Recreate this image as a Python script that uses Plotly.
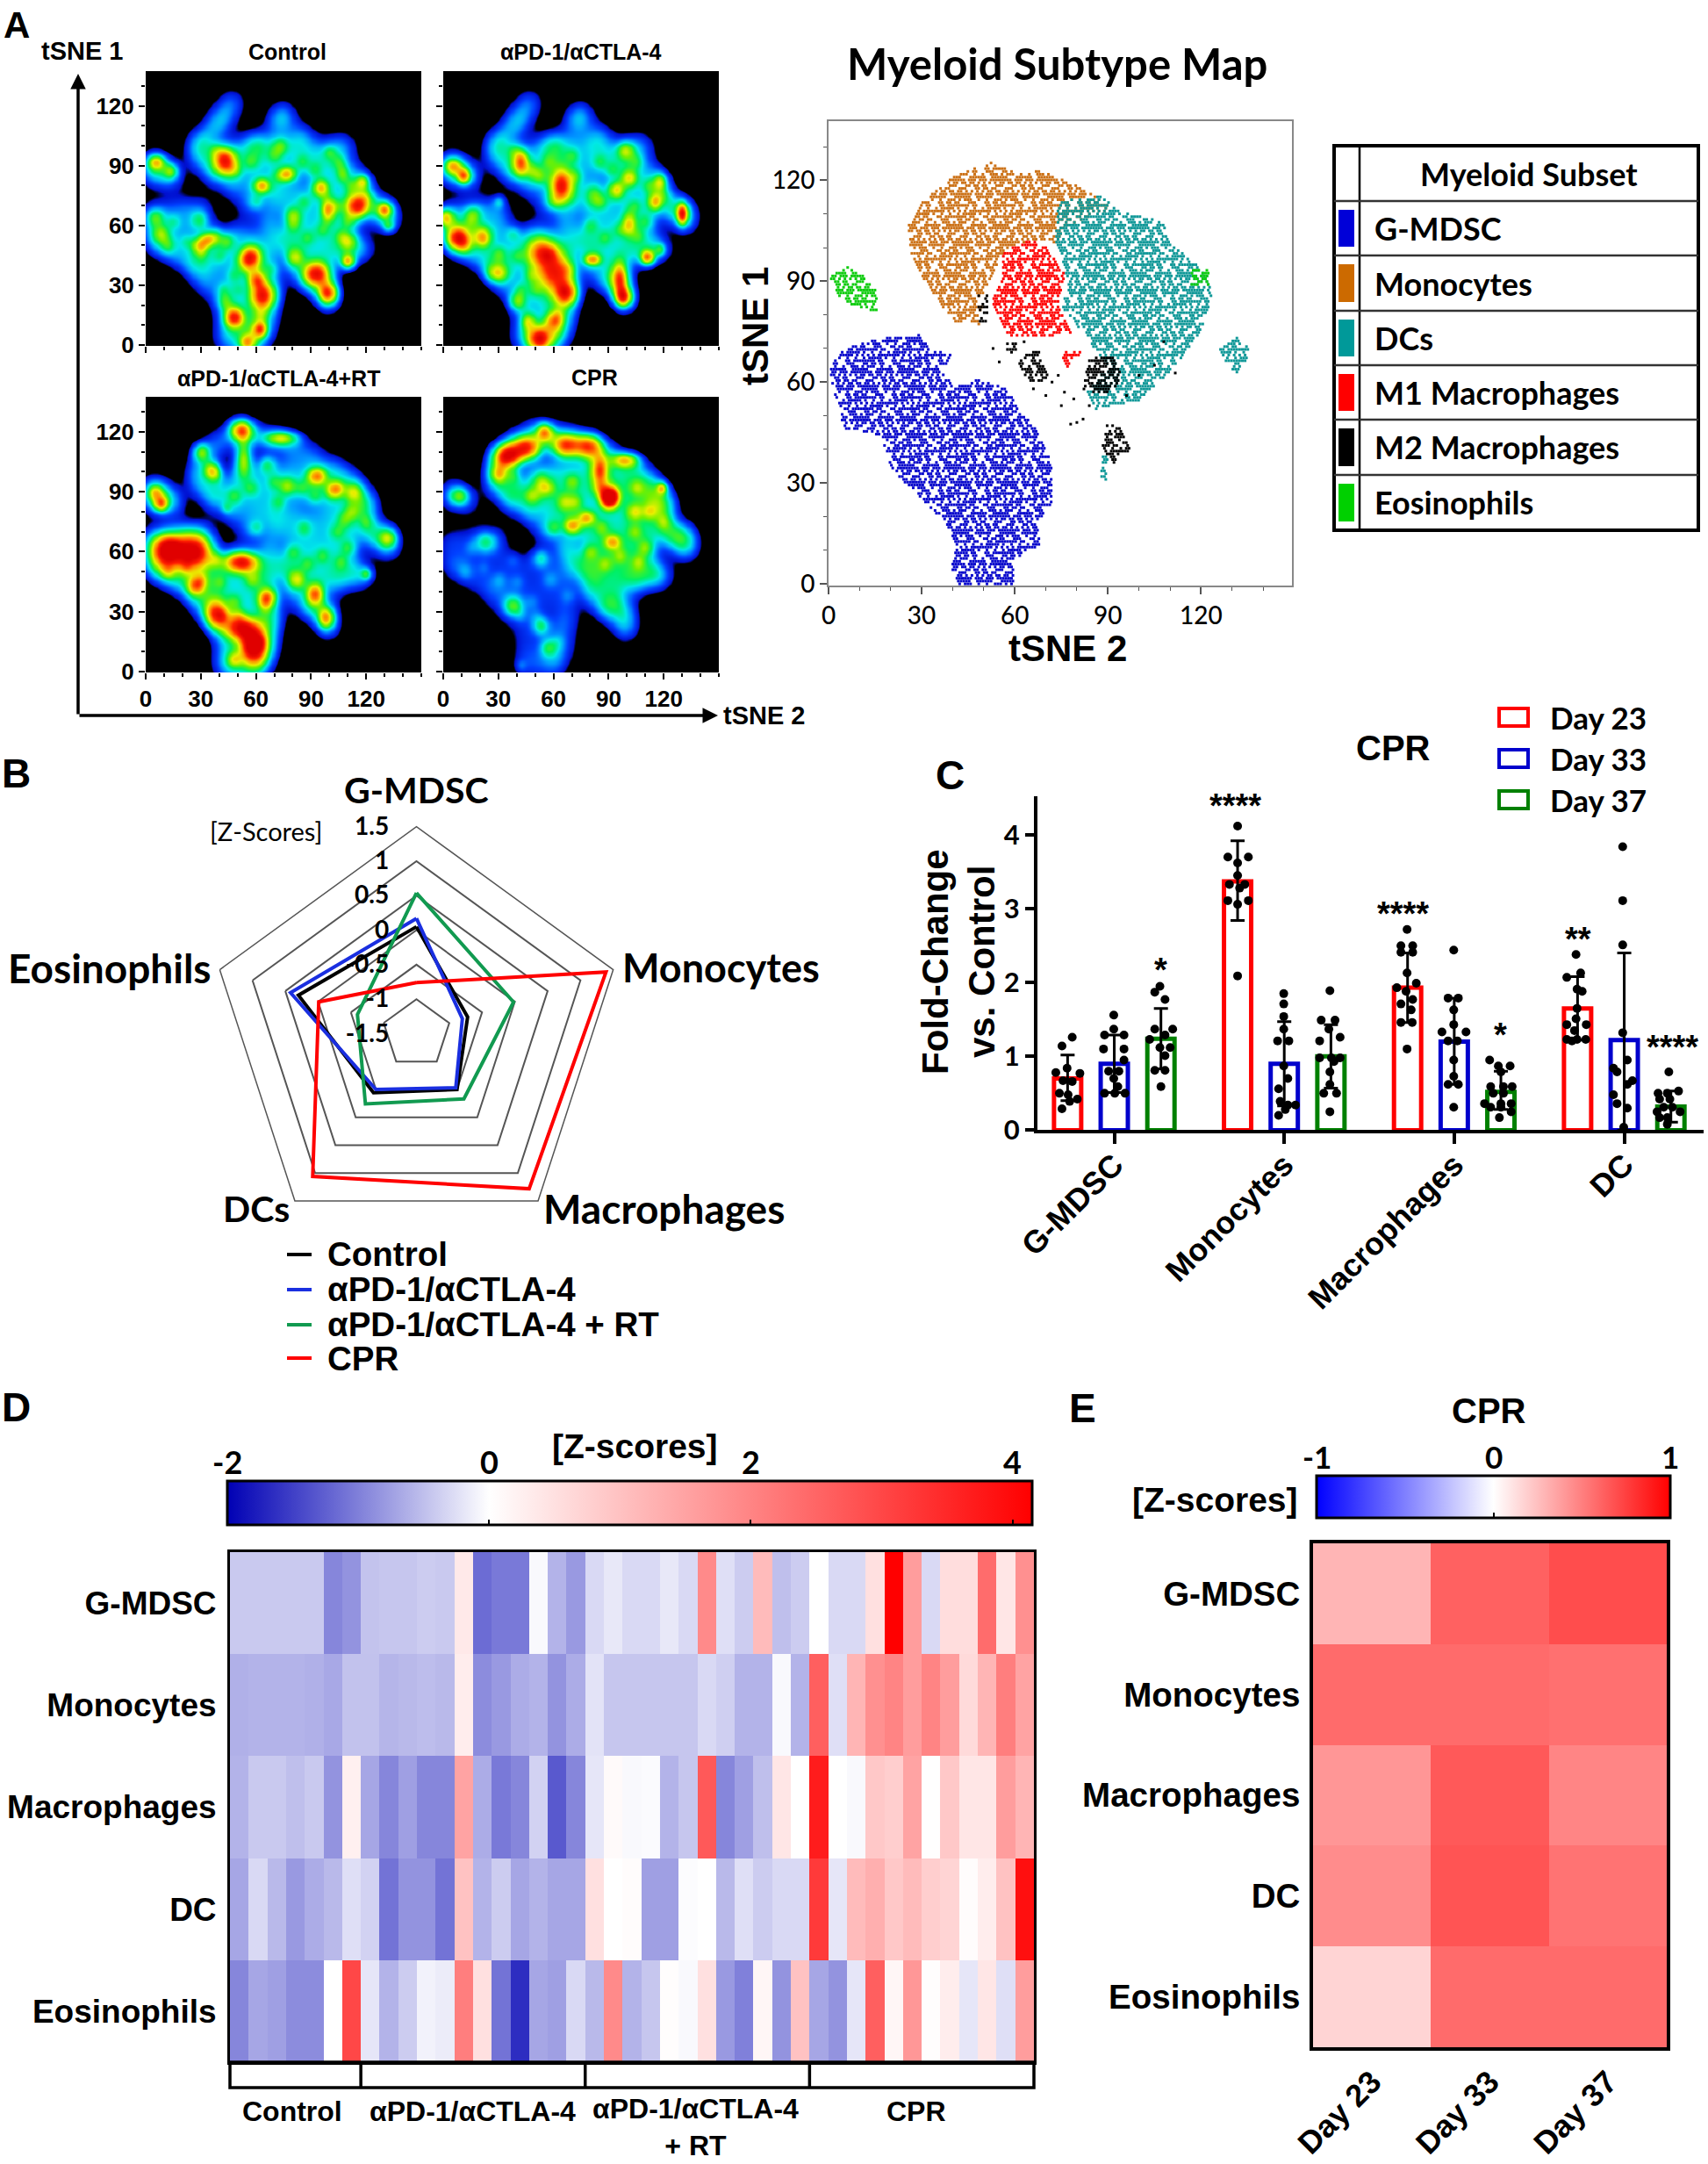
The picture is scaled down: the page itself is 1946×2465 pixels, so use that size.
import numpy as np
import plotly.graph_objects as go

W, H = 1946, 2465
ARIAL = "Liberation Sans"
CAL = "Lato"

# ---------- Panel A: density maps. Hot spots: (x, y, sx, sy, level)
TICKS_TSNE = [0, 30, 60, 90, 120]
PANEL_TITLES = ["Control", "αPD-1/αCTLA-4", "αPD-1/αCTLA-4+RT", "CPR"]
BASE_LOWER = [(2,65),(10,66),(20,68),(30,68),(3,55),(12,55),(22,58),(32,58),(8,50),(16,46),(24,44),(32,48),(42,52),(50,56),(58,52),(66,48),
              (27,38),(35,40),(45,42),(55,44),(65,40),(33,30),(45,32),(55,34),(67,32),(68,25),(42,22),(52,22),(62,22),(66,15),
              (44,12),(55,12),(63,10),(43,3),(50,3),(58,3),(62,4),(4,92),(10,88),(14,84),(3,86)]
BASE_UPPER = [(30,93),(37,86),(47,80),(56,71),(66,62),(72,55),(40,92),(50,98),(60,100),(70,100),(80,100),(90,97),(100,92),(110,88),(118,82),(50,88),(60,90),(70,90),(80,90),
              (90,88),(100,82),(110,78),(120,72),(60,80),(70,80),(80,78),(90,75),(100,72),(110,68),(70,72),(80,68),(90,65),
              (100,62),(110,60),(82,58),(92,55),(102,52),(112,50),(118,48),(78,50),(85,47),(95,45),(105,45),(80,40),(88,32),(92,36),(98,30),(99,22),
              (125,68),(131,68),(132,62)]
TOP_NOTCHED = [(28,100),(32,103),(38,110),(42,115),(47,122),(60,100),(72,112),(75,116),(85,105),(100,98),(108,100)]
TOP_DOME = [(28,100),(32,108),(40,115),(50,120),(60,118),(70,116),(80,112),(90,108),(100,102),(108,98),(115,92),(120,84)]
TEXTURE_UP = [(38,98),(57,92),(48,88),(70,95),(85,92),(92,88),(72,85),(60,72),(86,72),(80,60),(105,92),(112,80),(104,70),(96,58),(106,55),(88,54),(110,62),(120,75)]
TEXTURE_LOW = [(15,62),(22,52),(38,56),(12,50),(30,46),(48,35),(42,28),(58,46),(68,38),(50,28),(62,15),(40,45)]
BASE_LEVELS = [(0.16, 0.15), (0.16, 0.16), (0.165, 0.18), (0.2, 0.09)]  # upper, lower cloud

DENS_CONTROL = [(43,93,4,4.5,.75),(5.5,92,3,2.5,.45),(13.7,87.5,2.5,2.5,.3),(73,100,3,3,.25),(100,97,2,2,.12),(77,86,3,2.5,.5),
    (63,80,3,2.5,.5),(95,79,3,3,.5),(99,68,2.5,4,.5),(115,70,4,4,.75),(130,68,2.5,2.5,.5),(132,60,2,2,.25),(107,86,2.5,3,.25),
    (118,82,2.5,2.5,.4),(80,65,3,3,.3),(110,52,3,3,.3),(110,42,2.5,2.5,.6),(81,44,3,3,.3),(93,36,5,4,.7),(99,26,3.5,3.5,.7),
    (56,43,4,4,.7),(63,25,4.5,4.5,.7),(60,33,3,3,.5),(48,14,3.5,3.5,.75),(62,8,2.5,2.5,.5),(55,1,3,3,.5),(34,53,3.5,2.5,.45),
    (29,50,3,2.5,.35),(5,64,3,3,.25),(8,56,3,3,.25),(29,63,3,3,.2),(44,52,3,3,.25),(43,22,3,3,.25)]
DENS_APD = [(42,92,3,4.5,.6),(5,90,3,2.5,.4),(11,85,2.5,2.5,.55),(64,80,4,6,.75),(99,98,3,3,.3),(118,82,2.5,3,.4),(115,72,2.5,3,.45),
    (101,84,3,3,.4),(94,78,3,3,.45),(101,61,2.5,4,.4),(130,66,2,3.5,.7),(52,85,3,3,.25),(82,75,3,4,.25),(111,44,2.5,2.5,.65),
    (81,43,3,2,.5),(96,33,3,6,.65),(98,24,3,3,.65),(118,48,2,2,.25),(52,47,5,5,.55),(60,36,6,7,.7),(67,26,4,4,.55),(8,54,4,4,.7),
    (21,55,3.5,3.5,.45),(1,64,3,3,.5),(29,36,4,3,.4),(40,22,3,3,.35),(46,12,2.5,3,.35),(52,3,4,4,.75),(60,12,3,3,.35),(30,72,2,2,.2),(16,66,3,3,.25)]
DENS_RT = [(5,90,2.5,2.5,.3),(8,84,2.5,2.5,.5),(52,121,4,3.5,.7),(53,107,3,6,.55),(36,101,3,3,.5),(30,110,3,3,.4),(74,117,6,2.5,.5),
    (93,98,3.5,3,.55),(102,91,3,3,.4),(66,104,3,3,.25),(77,93,3,3,.3),(113,90,3,3,.25),(44,82,2,2,.15),(108,76,3,3,.2),(132,67,3,3,.3),
    (120,49,2,2,.3),(82,46,3,3,.3),(92,39,3,3.5,.55),(98,27,3,3.5,.55),(11,61,5,5,.8),(25,60,7,6,.9),(52,55,6,3.5,.75),(38,29,4,5,.7),
    (52,22,6,4,.75),(58,13,4.5,5,.75),(65,36,3,3.5,.5),(48,6,2.5,2.5,.25),(27,43,3,3,.4)]
DENS_CPR = [(35,108,5,4,.85),(46,112,5,4,.8),(55,120,3,3,.55),(66,113,5,4,.7),(79,113,5,4,.65),(85,101,3,5,.6),(99,106,5,2.5,.55),
    (90,87,3.2,3.5,1.0),(119,92,2,2,.45),(30,99,3,3,.35),(53,94,3,4,.25),(70,73,3,2.5,.4),(78,77,3,2.5,.4),(92,65,3,2.5,.4),(66,85,3,3,.25),
    (104,80,3,3,.3),(8.5,88,3.5,3,.35),(23,65,4,3.5,.3),(38,33,3.5,3.5,.4),(53,23,3,3,.3),(57,12,3,3,.25),(53,57,3,3,.25),(42,3,2,2,.1)]
DENS_ALL = [DENS_CONTROL, DENS_APD, DENS_RT, DENS_CPR]
DENS_TOP = [TOP_NOTCHED, TOP_NOTCHED, TOP_DOME, TOP_DOME]
DENS_COLORS = [[0,'#000000'],[.09,'#000000'],[.115,'#0010d0'],[.19,'#0040ff'],[.27,'#00a0ff'],[.34,'#00e8e8'],[.43,'#00f060'],
               [.53,'#70f000'],[.63,'#e8f000'],[.75,'#ff9000'],[.87,'#ff2000'],[1,'#e00000']]

# ---------- Panel A right: cluster outlines in tSNE units.
# The individual cells cannot be read; each cluster is drawn as a regular lattice clipped to its outline.
SUBSETS = ["G-MDSC", "Monocytes", "DCs", "M1 Macrophages", "M2 Macrophages", "Eosinophils"]
SUBSET_COLORS = ["#0808cc", "#cc7218", "#109898", "#ff0000", "#000000", "#10cc10"]
SWATCH_COLORS = ["#0000d8", "#cc6a00", "#009999", "#ff0000", "#000000", "#00d000"]
OUT_GMDSC = [[(1,65.9),(5.9,70.3),(15.8,72.8),(29.6,74.1),(32.6,69.7),(39.5,68.4),(36.6,63.3),(40.5,58.3),(48.4,60.8),(58.3,57.6),
    (62.3,50.7),(66.2,46.9),(70.2,40.6),(72.1,33),(72.1,24.1),(67.2,17.8),(68.2,11.5),(60.3,7.7),(59.3,0),(41.5,0),(39.5,3.9),(41.5,11.5),
    (36.6,19.1),(28.7,26.7),(21.7,31.7),(17.8,40.6),(15.8,44.4),(4.9,46.3),(3,53.2),(.6,62.1)]]
OUT_MONO = [[(25.7,106.3),(30.6,113.9),(40.5,121.5),(52.4,125.3),(60.3,122.1),(68.2,122.8),(82,117.7),(91.9,111.4),(86,110.1),(76.1,106.3),
    (74.1,101.3),(66.2,102.5),(58.3,100),(54.3,94.9),(50.4,87.4),(48.4,77.2),(40.5,77.9),(32.6,87.4),(26.7,97.5)]]
OUT_DC = [[(74.1,113.9),(87.9,115.2),(93.9,110.7),(107.7,107.6),(109.7,101.3),(115.6,97.5),(122.5,91.2),(123.5,84.8),(119.6,74.7),(111.7,64.6),
    (99.8,54.5),(86,52),(83,57),(89.9,64.6),(84,72.2),(75.1,82.3),(77.1,89.9),(73.1,102.5)],
    [(125.9,69.7),(131.4,73.5),(136.4,69),(131.4,62.7),(127.5,65.9)],[(88,38),(90,38),(90,31),(88,31)]]
OUT_M1 = [[(56.3,98.7),(65.2,102.5),(70.2,100),(76.1,92.4),(74.1,82.3),(78.1,74.7),(70.2,73.5),(58.3,73.5),(55.3,78.5),(52.4,84.8),(56.3,91.2)],
    [(75.1,69.7),(82,69.7),(78.1,64.6),(75.1,64.6)]]
OUT_M2 = [[(61,66),(65,69),(70,65),(71,60),(64,60)],[(84,68),(92,68),(95,60),(88,56),(82,58)],[(90,48),(95,46),(97,40),(92,35),(88,40)],
    [(48.4,86),(51.4,86),(51.4,78),(48.4,78)],[(57.3,72),(60.3,72),(60.3,68.4),(57.3,68.4)],[(65.2,69.7),(68.2,69.7),(68.2,64.6),(65.2,64.6)]]
OUT_EOS = [[(.6,91.2),(4.9,94.9),(11.9,91.2),(15.2,87.4),(15.8,81),(8.9,82.3),(3,85.5)],[(117,93.7),(122.5,93.7),(122.5,88.6),(117,88.6)]]
OUTLINES = [OUT_GMDSC, OUT_MONO, OUT_DC, OUT_M1, OUT_M2, OUT_EOS]
M2_STRAYS_X = [76, 75, 78, 80, 82, 111.7, 100, 105, 72, 74, 63, 55, 53, 79, 84, 108, 96, 70, 66]
M2_STRAYS_Y = [57, 53, 47.5, 48, 49, 62.7, 62, 65, 60, 62, 72, 66, 70, 55, 53, 72, 56, 56, 58]

# ---------- Panel B
RADAR_AXES = ["G-MDSC", "Monocytes", "Macrophages", "DCs", "Eosinophils"]
RADAR_TICKS = [-1.5, -1, -0.5, 0, 0.5, 1, 1.5]
RADAR_CONTROL = [0.05, -0.72, -0.5, -0.44, 0.3]
RADAR_APD = [0.17, -0.8, -0.53, -0.5, 0.42]
RADAR_RT = [0.54, -0.02, -0.33, -0.24, -0.6]
RADAR_CPR = [-0.76, 1.39, 1.28, 1.06, -0.01]
RADAR_NAMES = ["Control", "αPD-1/αCTLA-4", "αPD-1/αCTLA-4 + RT", "CPR"]
RADAR_COLORS = ["#000000", "#1a2fe0", "#119a50", "#ff0000"]
RADAR_LABEL_POS = [(474, 899, 41), (821, 1102, 45), (756, 1376, 46), (292, 1376, 41), (125, 1102, 46)]

# ---------- Panel C
CATS_C = ["G-MDSC", "Monocytes", "Macrophages", "DC"]
DAYS = ["Day 23", "Day 33", "Day 37"]
DAY_COLORS = ["#ff0000", "#0000cc", "#008000"]
MEAN_D23 = [0.70, 3.37, 1.93, 1.65]
UP_D23 = [1.02, 3.92, 2.40, 2.08]
LOW_D23 = [0.40, 2.84, 1.46, 1.22]
MEAN_D33 = [0.90, 0.90, 1.20, 1.22]
UP_D33 = [1.29, 1.47, 1.79, 2.40]
LOW_D33 = [0.51, 0.33, 0.62, 0.0]
MEAN_D37 = [1.24, 1.00, 0.52, 0.32]
UP_D37 = [1.65, 1.43, 0.80, 0.53]
LOW_D37 = [0.83, 0.57, 0.28, 0.11]
# dots: (value, sideways offset); offsets in 1/332 of a category
DOTS = {
 (0,0): [(1.26,9),(1.14,-11),(.84,-1),(.78,-23),(.77,24),(.67,-9),(.66,9),(.5,-16),(.48,1),(.42,19),(.39,4),(.29,-11)],
 (0,1): [(1.56,-1),(1.37,-1),(1.29,-19),(1.29,19),(1.1,-21),(1.1,19),(.95,19),(.8,-11),(.8,9),(.7,-1),(.59,7),(.5,-19),(.5,1),(.5,21)],
 (0,2): [(1.95,-2),(1.87,-12),(1.77,8),(1.37,-12),(1.37,23),(1.29,8),(1.23,-22),(1.12,-2),(1.12,18),(1.01,8),(.81,-12),(.81,8),(.59,0)],
 (1,0): [(4.12,0),(3.7,-19),(3.7,21),(3.62,0),(3.45,0),(3.33,-16),(3.33,14),(3.28,4),(3.11,-19),(3.11,21),(3.06,0),(2.09,0)],
 (1,1): [(1.85,-1),(1.71,-1),(1.54,-1),(1.37,-1),(1.21,-13),(1.21,9),(.87,-1),(.7,7),(.56,-11),(.39,-8),(.34,7),(.34,22),(.28,2),(.2,-11)],
 (1,2): [(1.89,-2),(1.49,-19),(1.49,8),(1.37,-4),(1.26,18),(1.21,-22),(.98,-22),(.98,1),(.98,18),(.93,6),(.79,-2),(.62,-2),(.5,-14),(.5,11),(.25,-2)],
 (2,0): [(2.72,-1),(2.5,-13),(2.5,10),(2.41,-13),(2.41,10),(2.13,-1),(1.99,17),(1.93,-21),(1.88,-3),(1.77,10),(1.71,-13),(1.63,7),(1.46,-13),(1.46,9),(1.1,-1)],
 (2,1): [(2.44,-1),(1.79,-12),(1.79,8),(1.63,-1),(1.43,-1),(1.33,-24),(1.33,23),(1.21,-12),(1.21,6),(.95,-1),(.73,-1),(.62,-12),(.62,8),(.31,-1)],
 (2,2): [(.95,-22),(.87,-5),(.87,18),(.79,0),(.59,-20),(.59,5),(.59,22),(.5,-15),(.5,5),(.36,-32),(.36,0),(.36,20),(.31,-20),(.31,0),(.25,20),(.17,-3)],
 (3,0): [(2.38,-3),(2.13,6),(2.07,-21),(1.91,-1),(1.88,9),(1.65,-1),(1.51,-3),(1.43,-21),(1.43,17),(1.35,-6),(1.23,-21),(1.23,-1),(1.23,16),(1.21,-11)],
 (3,1): [(3.84,-3),(3.11,-3),(2.51,-3),(1.32,-3),(.95,6),(.84,-21),(.79,-14),(.67,16),(.62,6),(.48,-21),(.36,-14),(.3,6),(.04,-1)],
 (3,2): [(.79,-4),(.53,15),(.5,-25),(.5,-7),(.42,-22),(.42,-2),(.31,-14),(.31,3),(.25,-27),(.25,18),(.17,-22),(.17,-7),(.08,-7)],
}
STARS = [("*", 0, 0.274, 2.26), ("****", 1, -0.29, 4.49), ("****", 2, -0.30, 3.02), ("*", 2, 0.27, 1.38), ("**", 3, -0.27, 2.68), ("****", 3, 0.285, 1.22)]

# ---------- Panel D
ROWS = ["G-MDSC", "Monocytes", "Macrophages", "DC", "Eosinophils"]
HM_GMDSC = [-.42,-.42,-.42,-.42,-.42,-.95,-.85,-.47,-.45,-.45,-.4,-.42,.35,-1.15,-1.05,-1.05,-.05,-.6,-.8,-.3,-.18,-.3,-.3,-.18,-.3,1.9,-.25,-.4,1.1,-.5,-.4,0,-.3,-.3,.5,4.15,1.6,-.3,.55,.55,2.4,.4,1.8]
HM_MONO = [-.62,-.6,-.6,-.6,-.62,-.68,-.48,-.48,-.58,-.55,-.52,-.55,.3,-.9,-.8,-.65,-.6,-.85,-.65,-.22,-.45,-.45,-.45,-.45,-.45,-.3,-.38,-.6,-.6,-.05,-.6,2.6,-.25,1.2,1.8,2.0,1.6,2.0,1.6,.6,1.2,2.1,1.5]
HM_MACRO = [-.6,-.42,-.42,-.5,-.42,-.85,.25,-.7,-.95,-.75,-.95,-.95,1.5,-.65,-1.05,-.95,-.35,-1.3,-.95,-.2,.08,-.05,-.03,-.6,-.45,2.7,-.95,-.75,-.5,.4,0,3.7,0,-.05,.9,.8,1.5,.02,.9,.4,.4,1.6,1.2]
HM_DC = [-.7,-.3,-.55,-.8,-.65,-.55,-.25,-.35,-1.1,-.85,-.85,-1.1,1.0,-.6,-.4,-.7,-.6,-.7,-.7,.5,0,.05,-.75,-.75,-.02,0,-.55,-.25,-.4,-.3,-.3,3.2,-.2,1.1,1.3,.9,1.1,.8,.7,.05,.3,1.0,3.9]
HM_EOS = [-.95,-.7,-.75,-.9,-.9,0,3.0,-.2,-.6,-.4,-.1,-.15,2.1,.5,-1.1,-1.65,-.7,-.75,-.3,-.55,1.9,-.6,-.45,.04,-.05,.5,-.8,-1.0,.15,-.85,1.0,-.7,-.85,-.2,2.6,.15,1.7,.03,.3,-.2,.4,-.25,1.6]
GROUP_SIZES = [7, 12, 12, 12]
GROUP_NAMES = ["Control", "αPD-1/αCTLA-4", "αPD-1/αCTLA-4<br>+ RT", "CPR"]
CB_TICKS_D = [-2, 0, 2, 4]
CB_TICKS_E = [-1, 0, 1]

# ---------- Panel E
HM_E = [[.29,.62,.70],[.58,.58,.56],[.41,.65,.48],[.45,.67,.55],[.17,.58,.58]]
E_DAYS = DAYS

# ---------- helpers
def px(x): return x / W
def py(y): return 1 - y / H
annotations, shapes = [], []

def txt(x, y, s, size, fam=ARIAL, anchor="center", va="middle", angle=0, color="#000", weight=700):
    annotations.append(dict(x=px(x), y=py(y), xref="paper", yref="paper", text=s, showarrow=False, xanchor=anchor, yanchor=va,
                            textangle=angle, font=dict(family=fam, size=size, color=color, weight=weight)))

def rect(x0, y0, x1, y1, line="#000", lw=2, fill=None):
    shapes.append(dict(type="rect", xref="paper", yref="paper", x0=px(x0), x1=px(x1), y0=py(y0), y1=py(y1),
                       line=dict(color=line, width=lw), fillcolor=fill or "rgba(0,0,0,0)"))

def seg(x0, y0, x1, y1, color="#000", lw=2):
    shapes.append(dict(type="line", xref="paper", yref="paper", x0=px(x0), x1=px(x1), y0=py(y0), y1=py(y1), line=dict(color=color, width=lw)))

fig = go.Figure()
layout = {}

def axes(i, box, xo, yo):
    x0, y0, x1, y1 = box
    s = "" if i == 1 else str(i)
    layout["xaxis" + s] = dict(domain=[px(x0), px(x1)], anchor="y" + s, showgrid=False, zeroline=False, **xo)
    layout["yaxis" + s] = dict(domain=[py(y1), py(y0)], anchor="x" + s, showgrid=False, zeroline=False, **yo)
    return "x" + s, "y" + s

# ---------- density panels
XG = np.arange(0, 151, 1.0)
YG = np.arange(-2, 140, 1.0)
GX, GY = np.meshgrid(XG, YG)

def density(k):
    z = np.zeros_like(GX)
    up, low = BASE_LEVELS[k]
    for (x, y) in BASE_UPPER + DENS_TOP[k]:
        z += up * np.exp(-((GX - x) ** 2 + (GY - y) ** 2) / (2 * 5.5 ** 2))
    for (x, y) in BASE_LOWER:
        z += low * np.exp(-((GX - x) ** 2 + (GY - y) ** 2) / (2 * 5.5 ** 2))
    for (x, y) in TEXTURE_UP:
        z += up * 0.8 * np.exp(-((GX - x) ** 2 + (GY - y) ** 2) / (2 * 2.8 ** 2))
    for (x, y) in TEXTURE_LOW:
        z += low * 0.8 * np.exp(-((GX - x) ** 2 + (GY - y) ** 2) / (2 * 2.8 ** 2))
    for (x, y, sx, sy, a) in DENS_ALL[k]:
        z += 0.85 * a * np.exp(-((GX - x) ** 2 / (2 * (1.08 * sx) ** 2) + (GY - y) ** 2 / (2 * (1.08 * sy) ** 2)))
    return np.round(np.clip(z, 0, 1), 3)

BOXES_A = [(166, 81, 480, 394), (505, 81, 819, 394), (166, 452, 480, 766), (505, 452, 819, 766)]
TITLES_A = [(327, 59), (662, 59), (317, 431), (677, 430)]
for k, box in enumerate(BOXES_A):
    tick = dict(ticks="outside", ticklen=7, tickwidth=2, tickcolor="#000", tickvals=TICKS_TSNE,
                minor=dict(dtick=10, ticks="outside", ticklen=4, tickwidth=1.5, tickcolor="#000"),
                tickfont=dict(family=ARIAL, size=26, color="#000", weight=700))
    xo = dict(range=[0, 150], showticklabels=k >= 2, **tick)
    yo = dict(range=[-0.5, 137.5], showticklabels=k in (0, 2), **tick)
    xa, ya = axes(k + 1, box, xo, yo)
    fig.add_trace(go.Heatmap(x=XG, y=YG, z=density(k), zmin=0, zmax=1, colorscale=DENS_COLORS, showscale=False,
                             zsmooth="best", xaxis=xa, yaxis=ya, name=PANEL_TITLES[k]))
    txt(TITLES_A[k][0], TITLES_A[k][1], PANEL_TITLES[k], 25)

# arrows
annotations.append(dict(xref="paper", yref="paper", axref="pixel", ayref="pixel", x=px(89), y=py(84), ax=0, ay=731, text="",
                        showarrow=True, arrowhead=2, arrowsize=1, arrowwidth=3.5, arrowcolor="#000"))
annotations.append(dict(xref="paper", yref="paper", axref="pixel", ayref="pixel", x=px(818), y=py(815), ax=-729, ay=0, text="",
                        showarrow=True, arrowhead=2, arrowsize=1, arrowwidth=3.5, arrowcolor="#000"))
txt(93, 58, "tSNE 1", 29)
txt(822, 815, "tSNE 2", 29, anchor="left")
txt(2, 29, "A", 42, anchor="left")

# ---------- tSNE map
def inside(px_, py_, poly):
    p = np.array(poly)
    c = np.zeros(px_.shape, bool)
    j = len(p) - 1
    for i in range(len(p)):
        xi, yi, xj, yj = p[i, 0], p[i, 1], p[j, 0], p[j, 1]
        with np.errstate(divide="ignore", invalid="ignore"):
            c ^= ((yi > py_) != (yj > py_)) & (px_ < (xj - xi) * (py_ - yi) / (yj - yi) + xi)
        j = i
    return c

I, J = np.meshgrid(np.arange(0, 170), np.arange(0, 155))
LX = I * 0.88 + 0.44 * (J % 2)
LY = J * 0.84
SPECKLE = (I * I * 3 + J * J * 5 + I * J * 7 + I) % 17 < 10
tick = dict(ticks="outside", ticklen=8, tickwidth=1.5, tickcolor="#555", tickvals=TICKS_TSNE,
            minor=dict(dtick=10, ticks="outside", ticklen=4, tickwidth=1, tickcolor="#555"),
            tickfont=dict(family=CAL, size=28, color="#000", weight=500),
            showline=True, linecolor="#888", linewidth=2, mirror=True)
xa, ya = axes(5, (944, 138, 1472, 667), dict(range=[0, 149.3], **tick), dict(range=[-0.5, 137.6], **tick))
for name, col, polys in zip(SUBSETS, SUBSET_COLORS, OUTLINES):
    m = np.zeros(LX.shape, bool)
    for poly in polys:
        m |= inside(LX, LY, poly)
    m &= SPECKLE
    xs, ys = list(np.round(LX[m], 2)), list(np.round(LY[m], 2))
    if name == "M2 Macrophages":
        xs += M2_STRAYS_X
        ys += M2_STRAYS_Y
    fig.add_trace(go.Scatter(x=xs, y=ys, mode="markers", xaxis=xa, yaxis=ya, name=name,
                             marker=dict(symbol="square", size=3, color=col, line=dict(width=0))))
txt(1204, 72, "Myeloid Subtype Map", 49, CAL)
txt(1216, 738, "tSNE 2", 42)
txt(860, 372, "tSNE 1", 42, angle=-90)

# legend table
TOPS = [166, 229, 291, 354, 416, 478, 541, 604]
rect(1520, 166, 1935, 604, lw=4)
seg(1549, 166, 1549, 604, lw=2.5)
for t in TOPS[1:-1]:
    seg(1520, t, 1935, t, color="#333", lw=2.5)
txt(1742, 198, "Myeloid Subset", 36, CAL)
for i, (name, col) in enumerate(zip(SUBSETS, SWATCH_COLORS)):
    rect(1525, TOPS[i + 1] + 10, 1543, TOPS[i + 2] - 10, line=col, lw=0, fill=col)
    txt(1564, (TOPS[i + 1] + TOPS[i + 2]) / 2, name, 36, CAL, anchor="left")

# ---------- radar
CX, CY, R = 474.5, 1177.4, 235.7
layout["polar"] = dict(
    domain=dict(x=[px(CX - R), px(CX + R)], y=[py(CY + R), py(CY - R)]), gridshape="linear", bgcolor="rgba(0,0,0,0)",
    radialaxis=dict(range=[-1.5, 1.5], tickvals=RADAR_TICKS, ticktext=[str(t) for t in RADAR_TICKS], angle=90, tickangle=90, side="counterclockwise",
                    showline=False, ticks="outside", ticklen=21, tickcolor="rgba(0,0,0,0)", gridcolor="#555", gridwidth=1.5,
                    tickfont=dict(family=CAL, size=28, color="#000", weight=700)),
    angularaxis=dict(type="category", categoryarray=RADAR_AXES, rotation=90, direction="clockwise", showgrid=False, ticks="",
                     showticklabels=False, linecolor="#555", linewidth=1.5))
for name, col, vals in zip(RADAR_NAMES, RADAR_COLORS, [RADAR_CONTROL, RADAR_APD, RADAR_RT, RADAR_CPR]):
    fig.add_trace(go.Scatterpolar(r=vals + vals[:1], theta=RADAR_AXES + RADAR_AXES[:1], mode="lines", name=name, subplot="polar",
                                  line=dict(color=col, width=4)))
for name, (x, y, s) in zip(RADAR_AXES, RADAR_LABEL_POS):
    txt(x, y, name, s, CAL)
txt(303, 946, "[Z-Scores]", 29, CAL, weight=400)
for n, col, y in zip(RADAR_NAMES, RADAR_COLORS, [1429, 1469, 1509, 1547]):
    seg(327, y, 355, y, color=col, lw=4)
    txt(371, y, n, 38.5, anchor="left")
txt(0, 881, "B", 46, anchor="left")

# ---------- bars
xa, ya = axes(6, (1182, 906.5, 1941, 1287.4),
    dict(range=[-0.452, 3.467], tickvals=[0, 1, 2, 3], ticktext=CATS_C, tickangle=-45, ticks="outside", ticklen=12, tickwidth=4, tickcolor="#000",
         ticklabelstandoff=-12, showline=True, linecolor="#000", linewidth=4, tickfont=dict(family=ARIAL, size=36, color="#000", weight=700)),
    dict(range=[0, 4.53], tickvals=[0, 1, 2, 3, 4], ticks="outside", ticklen=10, tickwidth=4, tickcolor="#000",
         showline=True, linecolor="#000", linewidth=4, tickfont=dict(family=CAL, size=31, color="#000", weight=700)))
OFFS = [-0.2745, 0.0, 0.2745]
SERIES = [(MEAN_D23, UP_D23, LOW_D23), (MEAN_D33, UP_D33, LOW_D33), (MEAN_D37, UP_D37, LOW_D37)]
for d, (mean, up, low) in enumerate(SERIES):
    fig.add_trace(go.Bar(x=[c + OFFS[d] for c in range(4)], y=mean, width=0.16, name=DAYS[d], xaxis=xa, yaxis=ya,
                         marker=dict(color="white", line=dict(color=DAY_COLORS[d], width=5)),
                         error_y=dict(type="data", symmetric=False, array=[u - m for u, m in zip(up, mean)],
                                      arrayminus=[m - l for m, l in zip(mean, low)], color="#000", thickness=3, width=8)))
for (c, d), pts in DOTS.items():
    fig.add_trace(go.Scatter(x=[c + OFFS[d] + p[1] / 332 for p in pts], y=[p[0] for p in pts], mode="markers", xaxis=xa, yaxis=ya,
                             cliponaxis=False, showlegend=False, marker=dict(color="#000", size=10)))
for s, c, off, v in STARS:
    annotations.append(dict(x=c + off, y=v, xref=xa, yref=ya, text=s, showarrow=False, yshift=-8,
                            font=dict(family=ARIAL, size=38, color="#000", weight=700)))
txt(1587, 852, "CPR", 40)
for d, y in enumerate([817, 864, 911]):
    rect(1708, y - 10, 1741, y + 10, line=DAY_COLORS[d], lw=4)
    txt(1764, y, DAYS[d], 35, CAL, anchor="left")
txt(1065, 1096, "Fold-Change", 42, angle=-90)
txt(1118, 1096, "vs. Control", 42, angle=-90)
txt(1064, 883, "C", 46, anchor="left")

# ---------- heatmap D
RWB_D = [[0, "#0000b4"], [2 / 6.15, "#ffffff"], [1, "#ff0000"]]
xa, ya = axes(7, (262, 1768, 1178, 2349),
    dict(range=[-0.5, 42.5], showticklabels=False, ticks="", showline=True, linecolor="#000", linewidth=3, mirror=True),
    dict(range=[4.5, -0.5], tickvals=list(range(5)), ticktext=ROWS, ticks="", ticklabelstandoff=5, showline=True, linecolor="#000", linewidth=3, mirror=True,
         tickfont=dict(family=ARIAL, size=37, color="#000", weight=700)))
fig.add_trace(go.Heatmap(z=[HM_GMDSC, HM_MONO, HM_MACRO, HM_DC, HM_EOS], zmin=-2, zmax=4.15, colorscale=RWB_D, xaxis=xa, yaxis=ya,
    colorbar=dict(orientation="h", x=px(259), xanchor="left", y=py(1747), yanchor="bottom", len=917, lenmode="pixels", thickness=50, thicknessmode="pixels",
                  xpad=0, ypad=0, outlinewidth=3, outlinecolor="#000", tickvals=CB_TICKS_D, ticks="inside", ticklen=7, tickwidth=2, tickcolor="#000",
                  showticklabels=False)))
for t in CB_TICKS_D:
    txt(259 + (t + 2) / 6.15 * 917, 1665, str(t), 36, CAL)
txt(723, 1647, "[Z-scores]", 39)
rect(262, 2349, 1178, 2378, lw=3.5)
cum = 0
for g in GROUP_SIZES[:-1]:
    cum += g
    x = 262 + cum * (1178 - 262) / 43
    seg(x, 2349, x, 2378, lw=3.5)
for name, x, y in zip(GROUP_NAMES, [333, 538, 792, 1044], [2405, 2405, 2423, 2405]):
    txt(x, y, name, 32, ARIAL)
txt(0, 1603, "D", 46, anchor="left")

# ---------- heatmap E
RWB_E = [[0, "#0000ff"], [0.5, "#ffffff"], [1, "#ff0000"]]
xa, ya = axes(8, (1496, 1758, 1899, 2332),
    dict(range=[-0.5, 2.5], tickvals=[0, 1, 2], ticktext=E_DAYS, tickangle=-45, ticks="", showline=True, linecolor="#000", linewidth=4, mirror=True,
         tickfont=dict(family=ARIAL, size=36, color="#000", weight=700)),
    dict(range=[4.5, -0.5], tickvals=list(range(5)), ticktext=ROWS, ticks="", ticklabelstandoff=3, showline=True, linecolor="#000", linewidth=4, mirror=True,
         tickfont=dict(family=ARIAL, size=38.5, color="#000", weight=700)))
fig.add_trace(go.Heatmap(z=HM_E, zmin=-1, zmax=1, colorscale=RWB_E, xaxis=xa, yaxis=ya,
    colorbar=dict(orientation="h", x=px(1500), xanchor="left", y=py(1739), yanchor="bottom", len=403, lenmode="pixels", thickness=48, thicknessmode="pixels",
                  xpad=0, ypad=0, outlinewidth=3, outlinecolor="#000", tickvals=CB_TICKS_E, ticks="inside", ticklen=7, tickwidth=2, tickcolor="#000",
                  showticklabels=False)))
for t in CB_TICKS_E:
    txt(1500 + (t + 1) / 2 * 403, 1659, str(t), 35, CAL)
txt(1696, 1607, "CPR", 40)
txt(1481, 1709, "[Z-scores]", 39, anchor="right")
txt(1216, 1604, "E", 46, anchor="left")

fig.update_layout(width=W, height=H, margin=dict(l=0, r=0, t=0, b=0), autosize=False, template="none", showlegend=False, paper_bgcolor="white",
                  plot_bgcolor="rgba(0,0,0,0)", barmode="overlay", annotations=annotations, shapes=shapes, **layout)
fig.write_html("out.html", config=dict(displayModeBar=False),
               post_script="document.body.style.margin='0';document.documentElement.style.overflow='hidden';")
